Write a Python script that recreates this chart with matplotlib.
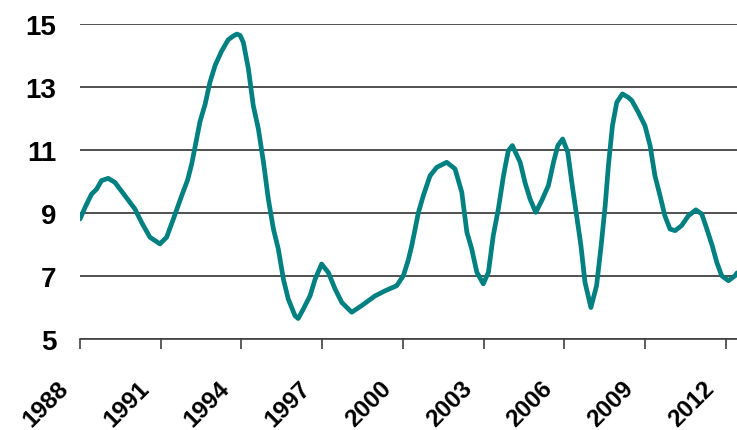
import matplotlib
matplotlib.use("Agg")
import matplotlib.pyplot as plt
from matplotlib.transforms import ScaledTranslation

years = [1988.00, 1988.20, 1988.43, 1988.62, 1988.80, 1989.05, 1989.30, 1989.67,
         1990.04, 1990.29, 1990.60, 1990.97, 1991.22, 1991.47, 1991.78, 1992.00,
         1992.15, 1992.30, 1992.46, 1992.65, 1992.83, 1993.02, 1993.27, 1993.51,
         1993.70, 1993.83, 1993.95, 1994.07, 1994.26, 1994.44, 1994.63, 1994.82, 1995.00,
         1995.19, 1995.37, 1995.56, 1995.74, 1995.99, 1996.11, 1996.30, 1996.55,
         1996.74, 1996.98, 1997.23, 1997.48, 1997.73, 1998.10, 1998.47, 1998.97,
         1999.34, 1999.77, 2000.02, 2000.20, 2000.33, 2000.58, 2000.76, 2001.01,
         2001.26, 2001.63, 2001.94, 2002.19, 2002.38, 2002.56, 2002.75, 2002.99,
         2003.18, 2003.36, 2003.55, 2003.74, 2003.92, 2004.07, 2004.36, 2004.54,
         2004.73, 2004.94, 2005.16, 2005.41, 2005.60, 2005.76, 2005.94, 2006.13,
         2006.28, 2006.46, 2006.62, 2006.77, 2006.99, 2007.20, 2007.37, 2007.52,
         2007.64, 2007.79, 2007.95, 2008.16, 2008.38, 2008.51, 2008.75, 2009.00,
         2009.19, 2009.37, 2009.56, 2009.74, 2009.93, 2010.12, 2010.36, 2010.61,
         2010.89, 2011.11, 2011.30, 2011.50, 2011.67, 2011.85, 2012.10, 2012.35,
         2012.42]
values = [8.81, 9.20, 9.60, 9.76, 10.03, 10.10, 9.97, 9.55,
          9.13, 8.70, 8.23, 8.02, 8.23, 8.81, 9.55, 10.05,
          10.55, 11.20, 11.90, 12.45, 13.15, 13.68, 14.15, 14.50,
          14.62, 14.68, 14.64, 14.42, 13.57, 12.41, 11.67, 10.61, 9.44,
          8.49, 7.86, 6.90, 6.27, 5.74, 5.65, 5.95, 6.37,
          6.90, 7.38, 7.11, 6.59, 6.16, 5.85, 6.06, 6.37,
          6.53, 6.69, 7.01, 7.50, 7.96, 9.02, 9.55, 10.18,
          10.45, 10.61, 10.40, 9.66, 8.39, 7.86, 7.12, 6.75,
          7.12, 8.28, 9.13, 10.18, 10.98, 11.14, 10.61, 9.97,
          9.44, 9.02, 9.39, 9.87, 10.61, 11.14, 11.35, 10.93,
          9.97, 8.91, 7.96, 6.80, 6.00, 6.69, 7.96, 9.23,
          10.50, 11.77, 12.51, 12.78, 12.67, 12.57, 12.20, 11.77,
          11.14, 10.18, 9.55, 8.91, 8.49, 8.44, 8.60, 8.91,
          9.10, 8.97, 8.49, 7.96, 7.43, 7.01, 6.85, 7.01,
          7.10]

x_ticks = [1988, 1991, 1994, 1997, 2000, 2003, 2006, 2009, 2012]
y_ticks = [5, 7, 9, 11, 13, 15]

plt.rcParams['font.family'] = ['Liberation Sans', 'DejaVu Sans']

fig = plt.figure(figsize=(7.37, 4.31), dpi=100)
W, H = 737, 431
ax = fig.add_axes([80 / W, 1 - 340 / H, (737 - 80) / W, (340 - 25) / H])

ax.plot(years, values, color='#008080', lw=3.4, solid_joinstyle='round',
        solid_capstyle='round', zorder=3)

ax.set_xlim(1988, 2012.42)
ax.set_ylim(5, 15)
ax.set_yticks(y_ticks)
ax.set_xticks(x_ticks)
ax.set_yticklabels([str(v) for v in y_ticks], fontsize=20, fontweight='bold')
ax.set_xticklabels([str(v) for v in x_ticks], fontsize=17.5, fontweight='bold',
                   rotation=45, ha='right', va='top')

for s in ['left', 'right', 'top']:
    ax.spines[s].set_visible(False)
ax.spines['bottom'].set_color('#404040')
ax.spines['bottom'].set_linewidth(1.2)

ax.yaxis.grid(True, color='#202020', lw=1.1)
ax.set_axisbelow(True)
ax.tick_params(axis='y', length=0, pad=17)
ax.tick_params(axis='x', direction='out', length=7, width=1.2, color='#404040', pad=20)

offset = ScaledTranslation(-0.07, 0, fig.dpi_scale_trans)
for lab in ax.get_xticklabels():
    lab.set_transform(lab.get_transform() + offset)

fig.savefig('out.png', dpi=100)
